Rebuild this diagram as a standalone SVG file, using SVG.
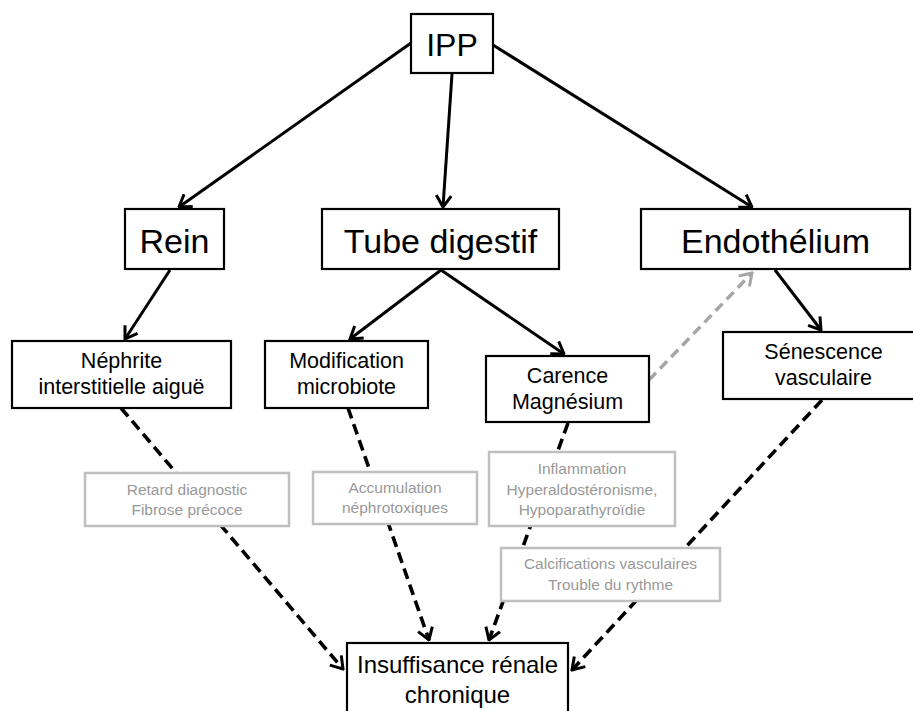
<svg xmlns="http://www.w3.org/2000/svg" width="913" height="711" viewBox="0 0 913 711">
<defs>
<style>
.box{fill:#fff;stroke:#000;stroke-width:2.2}
.gbox{fill:#fff;stroke:#bfbfbf;stroke-width:2.5}
.t{font-family:"Liberation Sans",Arial,sans-serif;text-anchor:middle;fill:#000}
.big{font-size:34px}
.mid{font-size:21.5px}
.g{font-size:15.5px;fill:#999}
.solid{fill:none;stroke:#000;stroke-width:3;marker-end:url(#ah)}
.dash{fill:none;stroke:#000;stroke-width:3.6;stroke-dasharray:11 6;marker-end:url(#ah)}
.gdash{fill:none;stroke:#a6a6a6;stroke-width:3.5;stroke-dasharray:10 6;marker-end:url(#gah)}
</style>
<marker id="ah" viewBox="0 0 14 18" refX="12.5" refY="9" markerWidth="14" markerHeight="18" markerUnits="userSpaceOnUse" orient="auto">
<path d="M1,1.5 L12.5,9 L1,16.5" fill="none" stroke="#000" stroke-width="3" stroke-dasharray="none"/>
</marker>
<marker id="gah" viewBox="0 0 14 18" refX="12.5" refY="9" markerWidth="14" markerHeight="18" markerUnits="userSpaceOnUse" orient="auto">
<path d="M1,1.5 L12.5,9 L1,16.5" fill="none" stroke="#a6a6a6" stroke-width="3" stroke-dasharray="none"/>
</marker>
</defs>
<rect width="913" height="711" fill="#fff"/>
<g id="connectors">
<path class="solid" d="M411,43 L179,207"/>
<path class="solid" d="M452,74 L443,207"/>
<path class="solid" d="M493,45 L752,207"/>
<path class="solid" d="M170,270 L125,339"/>
<path class="solid" d="M441,270 L350,339"/>
<path class="solid" d="M441,270 L564,354"/>
<path class="solid" d="M775,270 L821,330"/>
<path class="gdash" d="M649,380 L752,273"/>
<path class="dash" d="M121,408 L343,669"/>
<path class="dash" d="M348,408 L429,640"/>
<path class="dash" d="M568,423 L489,640"/>
<path class="dash" d="M822,400 L572,670"/>
</g>
<g id="ipp"><rect class="box" x="411" y="14" width="82" height="59"/><text class="t" x="452" y="56" style="font-size:32px">IPP</text></g>
<g id="rein"><rect class="box" x="125" y="209" width="99" height="60"/><text class="t big" x="174.5" y="253">Rein</text></g>
<g id="tube"><rect class="box" x="322" y="209" width="237" height="60"/><text class="t big" x="440.5" y="253">Tube digestif</text></g>
<g id="endothelium"><rect class="box" x="641" y="209" width="269" height="60"/><text class="t big" x="775.5" y="253">Endothélium</text></g>
<g id="nephrite"><rect class="box" x="12" y="341" width="219" height="67"/><text class="t mid" x="121.5" y="368">Néphrite</text><text class="t mid" x="121.5" y="394">interstitielle aiguë</text></g>
<g id="microbiote"><rect class="box" x="265" y="341" width="163" height="67"/><text class="t mid" x="346.5" y="368">Modification</text><text class="t mid" x="346.5" y="394">microbiote</text></g>
<g id="magnesium"><rect class="box" x="486" y="356" width="163" height="66"/><text class="t mid" x="567.5" y="383">Carence</text><text class="t mid" x="567.5" y="409">Magnésium</text></g>
<g id="senescence"><rect class="box" x="723" y="332" width="202" height="67"/><text class="t mid" x="823.5" y="359">Sénescence</text><text class="t mid" x="823.5" y="385">vasculaire</text></g>
<g id="retard"><rect class="gbox" x="85" y="473" width="204" height="53"/><text class="t g" x="187" y="495">Retard diagnostic</text><text class="t g" x="187" y="515">Fibrose précoce</text></g>
<g id="accumulation"><rect class="gbox" x="313" y="472" width="164" height="52"/><text class="t g" x="395" y="493">Accumulation</text><text class="t g" x="395" y="513">néphrotoxiques</text></g>
<g id="inflammation"><rect class="gbox" x="489" y="452" width="186" height="74"/><text class="t g" x="582" y="474">Inflammation</text><text class="t g" x="582" y="495">Hyperaldostéronisme,</text><text class="t g" x="582" y="515">Hypoparathyroïdie</text></g>
<g id="calcifications"><rect class="gbox" x="501" y="548" width="219" height="53"/><text class="t g" x="610.5" y="569">Calcifications vasculaires</text><text class="t g" x="610.5" y="590">Trouble du rythme</text></g>
<g id="irc"><rect class="box" x="347" y="643" width="221" height="80"/><text class="t" x="457.5" y="673" style="font-size:24px">Insuffisance rénale</text><text class="t" x="457.5" y="703" style="font-size:24px">chronique</text></g>
</svg>
